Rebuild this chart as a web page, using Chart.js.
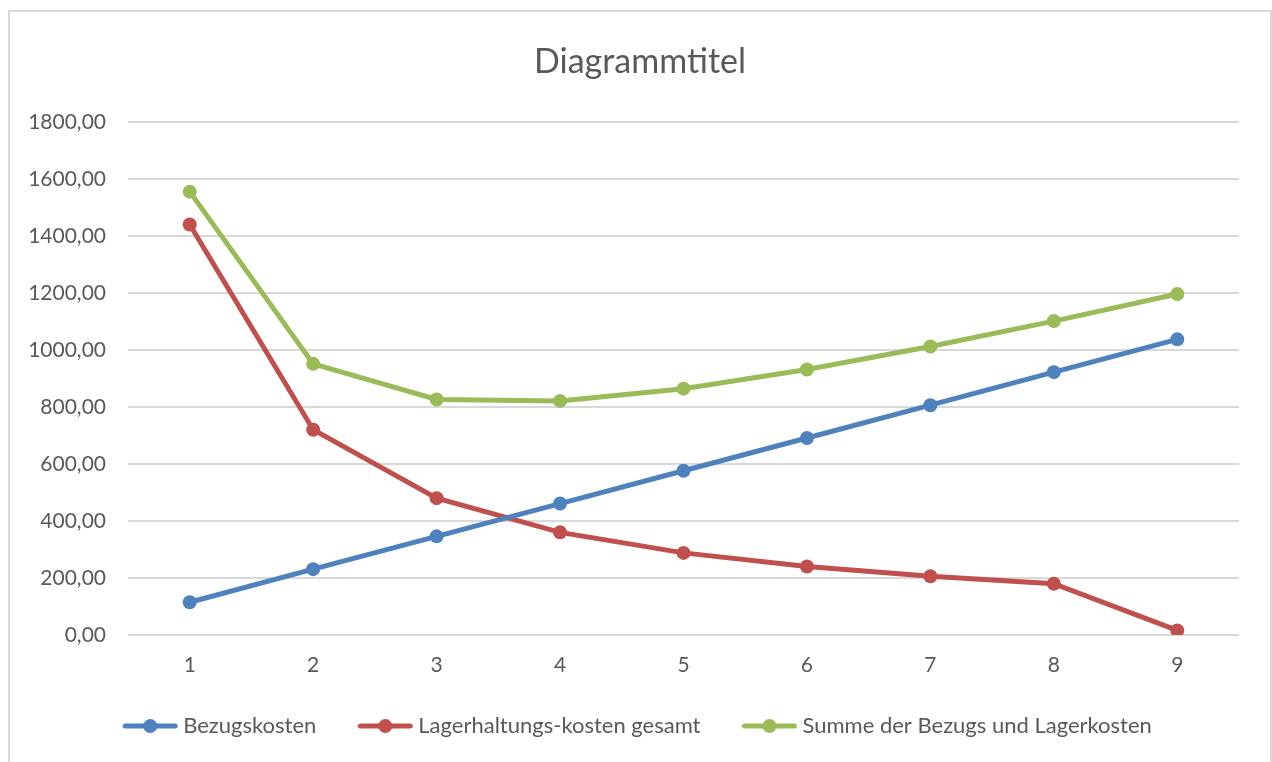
<!DOCTYPE html>
<html>
<head>
<meta charset="utf-8">
<script src="https://cdn.jsdelivr.net/npm/chart.js@4.4.1/dist/chart.umd.min.js"></script>
<style>
  html, body { margin: 0; padding: 0; background: #fff; overflow: hidden; }
  #box { position: absolute; left: 8px; top: 10px; width: 1260px; height: 790px;
         border: 2px solid #d9d9d9; background: #fff; }
  #chart { display: block; }
</style>
</head>
<body>
<div id="box"><canvas id="chart" width="1260" height="769"></canvas></div>
<script>
var labels = ['1', '2', '3', '4', '5', '6', '7', '8', '9'];
var bezugskosten = [115, 231, 346, 461, 576, 691, 806, 922, 1037];
var lagerkosten = [1440, 720, 480, 360, 288, 240, 206, 180, 16];
var summe = [1555, 951, 826, 821, 864, 931, 1012, 1101, 1196];
var yTicks = [0, 200, 400, 600, 800, 1000, 1200, 1400, 1600, 1800];

var fontName = "Lato, 'Open Sans', sans-serif";
var grey = '#595959';

// legend symbol: short line with dot in the middle
function legendIcon(color) {
  var c = document.createElement('canvas');
  c.width = 56; c.height = 16;
  var ctx = c.getContext('2d');
  ctx.strokeStyle = color;
  ctx.lineWidth = 5;
  ctx.lineCap = 'round';
  ctx.beginPath();
  ctx.moveTo(3, 8); ctx.lineTo(53, 8);
  ctx.stroke();
  ctx.fillStyle = color;
  ctx.beginPath();
  ctx.arc(28, 8, 7, 0, Math.PI * 2);
  ctx.fill();
  return c;
}

function ds(label, data, color) {
  return {
    label: label,
    data: data,
    borderColor: color,
    backgroundColor: color,
    borderWidth: 5,
    pointRadius: 7,
    pointHoverRadius: 7,
    pointBackgroundColor: color,
    pointBorderWidth: 0,
    tension: 0,
    pointStyle: 'circle'
  };
}

var colors = ['#4f81bd', '#c0504d', '#9bbb59'];

// x labels sit partly in the legend's top padding, so widen their clip box
var unclipX = {
  id: 'unclipX',
  afterLayout: function (chart) {
    chart.scales.x.bottom = chart.legend.bottom;
  }
};

new Chart(document.getElementById('chart'), {
  type: 'line',
  data: {
    labels: labels,
    datasets: [
      ds('Bezugskosten', bezugskosten, colors[0]),
      ds('Lagerhaltungs-kosten gesamt', lagerkosten, colors[1]),
      ds('Summe der Bezugs und Lagerkosten', summe, colors[2])
    ]
  },
  plugins: [unclipX],
  options: {
    responsive: false,
    animation: false,
    layout: { padding: { left: 0, right: 0, top: 20, bottom: 34 } },
    plugins: {
      title: {
        display: true,
        text: 'Diagrammtitel',
        color: grey,
        font: { family: fontName, size: 34, weight: 'normal' },
        padding: { top: 10, bottom: 39 }
      },
      legend: {
        position: 'bottom',
        labels: {
          color: grey,
          font: { family: fontName, size: 22 },
          usePointStyle: true,
          pointStyleWidth: 44,
          boxHeight: 16,
          padding: 47,
          generateLabels: function (chart) {
            return chart.data.datasets.map(function (d, i) {
              return {
                text: d.label,
                fillStyle: d.borderColor,
                strokeStyle: d.borderColor,
                lineWidth: 0,
                pointStyle: legendIcon(d.borderColor),
                datasetIndex: i,
                fontColor: grey
              };
            });
          }
        }
      },
      tooltip: { enabled: false }
    },
    scales: {
      x: {
        offset: true,
        afterFit: function (axis) { axis.height = 33; },
        grid: { display: false, drawTicks: false },
        border: { display: false },
        ticks: { color: grey, font: { family: fontName, size: 21 }, padding: 18 }
      },
      y: {
        min: 0,
        max: 1800,
        afterBuildTicks: function (axis) {
          axis.ticks = yTicks.map(function (v) { return { value: v }; });
        },
        afterFit: function (axis) { axis.width = 118; },
        grid: { color: '#d9d9d9', lineWidth: 2, drawTicks: false },
        border: { display: false },
        ticks: {
          color: grey,
          font: { family: fontName, size: 21 },
          padding: 22,
          callback: function (v) { return Number(v).toFixed(2).replace('.', ','); }
        }
      },
      // empty right margin so the title stays centred on the whole box
      spacer: {
        position: 'right',
        afterFit: function (axis) { axis.width = 31; },
        grid: { display: false },
        border: { display: false },
        ticks: { display: false }
      }
    }
  }
});
</script>
</body>
</html>
